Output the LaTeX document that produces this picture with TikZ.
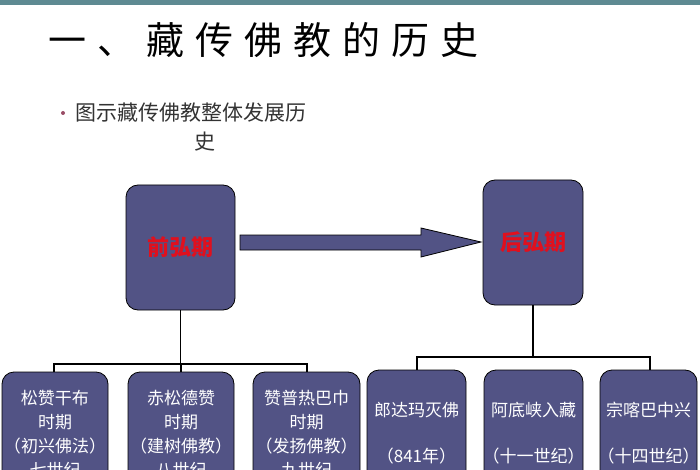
\documentclass[tikz,border=0pt]{standalone}
\usepackage{fontspec}
\newfontfamily\cjk{Noto Sans CJK SC}
\definecolor{boxc}{HTML}{525385}
\definecolor{redt}{HTML}{E0101E}
\definecolor{barc}{HTML}{5E8A92}
\begin{document}
\begin{tikzpicture}[x=1pt,y=-1pt,
  bx/.style={draw=black,line width=0.8pt,fill=boxc,rounded corners=12pt},
  bt/.style={text=white,font=\cjk\fontsize{17}{22}\selectfont,align=center},
  ln/.style={line width=1.2pt}]
\useasboundingbox (0,0) rectangle (700,470);
\begin{scope}
\clip (0,0) rectangle (700,470);
\fill[barc] (0,0) rectangle (700,5);
\node[anchor=west,font=\cjk\fontsize{38}{42}\selectfont,inner sep=0pt] (title) at (48,40) {一\hspace{11pt}、\hspace{11pt}藏\hspace{11pt}传\hspace{11pt}佛\hspace{11pt}教\hspace{11pt}的\hspace{11pt}历\hspace{11pt}史};
\fill[gray!60!purple] (63,113) circle (2pt);
\node[anchor=west,font=\cjk\fontsize{21}{26}\selectfont,text=black!80,inner sep=0pt] (sub) at (75,113) {图示藏传佛教整体发展历};
\node[font=\cjk\fontsize{21}{26}\selectfont,text=black!80] (sub2) at (205,142) {史};
% main boxes
\draw[bx] (126,185) rectangle (235,310);
\node[text=redt,font=\cjk\bfseries\fontsize{22}{26}\selectfont] (front) at (180.5,247) {前弘期};
\draw[bx] (483,180) rectangle (583,305);
\node[text=redt,font=\cjk\bfseries\fontsize{22}{26}\selectfont] (back) at (533,242) {后弘期};
\coordinate (fb) at (180.5,310); \coordinate (bb) at (533,305);
% arrow
\draw[fill=boxc,line width=0.8pt] (240,235) -- (421,235) -- (421,228) -- (481,242) -- (421,257) -- (421,250) -- (240,250) -- cycle;
% trees
\draw[ln] (fb) -- (180.5,364);
\draw[ln] (54,372) -- (54,364) -- (307,364) -- (307,372);
\draw[ln] (181,364) -- (181,372);
\draw[ln] (bb) -- (533,357);
\draw[ln] (417,370) -- (417,357) -- (650,357) -- (650,370);
% bottom boxes
\draw[bx] (2,372) rectangle (108,500);
\draw[bx] (128,372) rectangle (234,500);
\draw[bx] (253,372) rectangle (360,500);
\draw[bx] (367,370) rectangle (466,500);
\draw[bx] (484,370) rectangle (583,500);
\draw[bx] (600,370) rectangle (697,500);
\node[bt,font=\cjk\fontsize{17}{24}\selectfont] (b1) at (55,434) {松赞干布\\时期\\（初兴佛法）\\七世纪};
\node[bt,font=\cjk\fontsize{17}{24}\selectfont] (b2) at (181,434) {赤松德赞\\时期\\（建树佛教）\\八世纪};
\node[bt,font=\cjk\fontsize{17}{24}\selectfont] (b3) at (306.5,434) {赞普热巴巾\\时期\\（发扬佛教）\\九世纪};
\node[bt,font=\cjk\fontsize{17}{46}\selectfont] (b4) at (416.5,433) {郎达玛灭佛\\（841年）};
\node[bt,font=\cjk\fontsize{17}{46}\selectfont] (b5) at (533.5,433) {阿底峡入藏\\（十一世纪）};
\node[bt,font=\cjk\fontsize{17}{46}\selectfont] (b6) at (648.5,433) {宗喀巴中兴\\（十四世纪）};
\end{scope}
\end{tikzpicture}
\end{document}
